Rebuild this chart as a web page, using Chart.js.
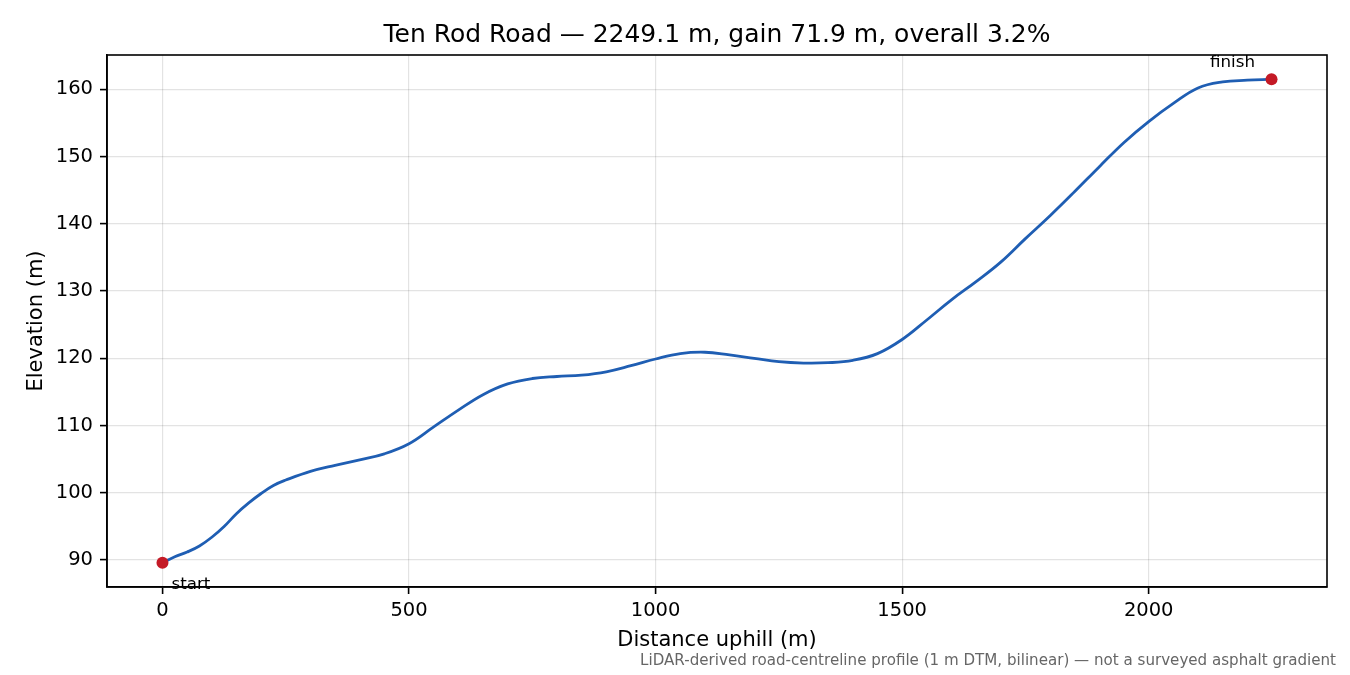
<!DOCTYPE html>
<html>
<head>
<meta charset="utf-8">
<script src="https://cdn.jsdelivr.net/npm/chart.js@4.4.1/dist/chart.umd.min.js"></script>
<style>
html,body{margin:0;padding:0;background:#fff;}
#wrap{width:1350px;height:675px;}
</style>
</head>
<body>
<div id="wrap"><canvas id="c" width="1350" height="675"></canvas></div>
<script>
const distance = [0,25,50,75,100,125,150,175,200,225,250,300,350,400,450,500,550,600,650,700,750,800,850,900,950,1000,1050,1100,1150,1200,1250,1300,1350,1400,1450,1500,1550,1600,1650,1700,1750,1800,1850,1900,1950,2000,2050,2100,2150,2200,2249.1];
const elevation = [89.6,90.5,91.2,92.1,93.4,95.0,96.9,98.5,99.9,101.1,101.9,103.2,104.1,104.9,105.8,107.3,109.8,112.3,114.6,116.2,117.0,117.3,117.5,118.0,118.9,119.9,120.7,120.9,120.5,120.0,119.5,119.3,119.35,119.7,120.7,122.8,125.7,128.7,131.4,134.3,137.8,141.2,144.8,148.5,152.1,155.2,157.9,160.2,161.1,161.35,161.5];
const xTicks = [0,500,1000,1500,2000];
const yTicks = [90,100,110,120,130,140,150,160];
const titleText = "Ten Rod Road \u2014 2249.1 m, gain 71.9 m, overall 3.2%";
const footText = "LiDAR-derived road-centreline profile (1 m DTM, bilinear) \u2014 not a surveyed asphalt gradient";
const endLabels = ["start","finish"];

const FONT = "'DejaVu Sans', sans-serif";
const profile = distance.map((d,i)=>({x:d,y:elevation[i]}));
const ends = [profile[0], profile[profile.length-1]];

const overlay = {
  id:'overlay',
  afterDraw(chart){
    const ctx = chart.ctx, a = chart.chartArea;
    const xs = chart.scales.x, ys = chart.scales.y;
    ctx.save();
    ctx.fillStyle = '#000';
    ctx.font = "25px " + FONT;
    ctx.textAlign = 'center';
    ctx.textBaseline = 'alphabetic';
    ctx.fillText(titleText, (a.left+a.right)/2, 42);
    ctx.font = "16.7px " + FONT;
    ctx.textAlign = 'left';
    ctx.fillText(endLabels[0], xs.getPixelForValue(ends[0].x)+9, ys.getPixelForValue(ends[0].y)+26);
    ctx.textAlign = 'center';
    ctx.fillText(endLabels[1], xs.getPixelForValue(ends[1].x)-39, ys.getPixelForValue(ends[1].y)-12);
    ctx.strokeStyle = '#000';
    ctx.lineWidth = 1.6;
    ctx.strokeRect(a.left, a.top, a.right-a.left, a.bottom-a.top);
    ctx.fillStyle = '#666';
    ctx.font = "15.1px " + FONT;
    ctx.textAlign = 'right';
    ctx.fillText(footText, 1336, 665);
    ctx.restore();
  }
};

const plain = v => String(v);

new Chart(document.getElementById('c'), {
  type:'scatter',
  data:{
    datasets:[
      {data:profile, showLine:true, borderColor:'#1f5eb3', borderWidth:2.8, pointRadius:0, tension:0.4, order:2},
      {data:ends, showLine:false, pointRadius:6, pointHoverRadius:6, backgroundColor:'#c41a26', borderWidth:0, order:1}
    ]
  },
  options:{
    responsive:false,
    animation:false,
    devicePixelRatio:1,
    layout:{padding:{top:55,left:0,right:23,bottom:0}},
    plugins:{legend:{display:false}, tooltip:{enabled:false}, title:{display:false}},
    scales:{
      x:{
        type:'linear', min:-112.5, max:2361.6,
        afterBuildTicks(s){ s.ticks = xTicks.map(v=>({value:v})); },
        afterFit(s){ s.height = 88; },
        grid:{color:'rgba(0,0,0,0.11)', lineWidth:1.2, tickLength:7, tickColor:'#000', tickWidth:1.6, drawTicks:true},
        border:{display:true, color:'#000', width:1.6},
        ticks:{color:'#000', font:{family:FONT, size:19.5}, padding:5, maxRotation:0, callback:plain},
        title:{display:true, text:'Distance uphill (m)', color:'#000', font:{family:FONT, size:21}, padding:{top:22,bottom:22}}
      },
      y:{
        type:'linear', min:86.0, max:165.1,
        afterBuildTicks(s){ s.ticks = yTicks.map(v=>({value:v})); },
        afterFit(s){ s.width = 107; },
        grid:{color:'rgba(0,0,0,0.11)', lineWidth:1.2, tickLength:7, tickColor:'#000', tickWidth:1.6, drawTicks:true},
        border:{display:true, color:'#000', width:1.6},
        ticks:{color:'#000', font:{family:FONT, size:19.5}, padding:7, callback:plain},
        title:{display:true, text:'Elevation (m)', color:'#000', font:{family:FONT, size:21}, padding:{top:24,bottom:0}}
      }
    }
  },
  plugins:[overlay]
});
</script>
</body>
</html>
